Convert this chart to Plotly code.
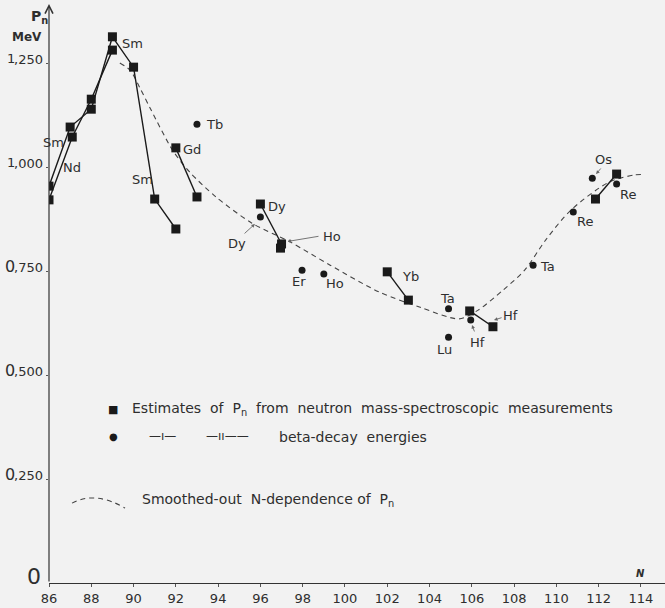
import plotly.graph_objects as go

# Neutron pairing energy P_n (MeV) against neutron number N

# Squares: estimates from mass-spectroscopic measurements (connected chains)
sm_chain_n = [86, 87, 88, 89, 90, 91, 92]
sm_chain_p = [0.954, 1.096, 1.139, 1.313, 1.240, 0.923, 0.851]
nd_chain_n = [86, 87.1, 88, 89]
nd_chain_p = [0.921, 1.072, 1.163, 1.281]
gd_n = [92, 93]
gd_p = [1.046, 0.928]
dy_n = [96, 97]
dy_p = [0.911, 0.815]
ho_sq_n = [96.95]
ho_sq_p = [0.805]
yb_n = [102, 103]
yb_p = [0.748, 0.680]
hf_n = [105.9, 107]
hf_p = [0.654, 0.616]
re_n = [111.85, 112.85]
re_p = [0.923, 0.983]

# Circles: values from beta-decay energies
beta_n = [93.0, 96.0, 97.97, 99.0, 104.9, 104.9, 105.95, 108.9, 110.8, 111.7, 112.85]
beta_p = [1.103, 0.880, 0.752, 0.743, 0.659, 0.591, 0.632, 0.764, 0.892, 0.973, 0.959]

# Smoothed-out N-dependence of P_n
smooth_n = [89.35, 89.85, 90.3, 90.8, 91.85, 92.65, 93.9, 95.6, 97.4, 99.3,
            101.6, 103.6, 105.4, 106.3, 107.5, 108.5, 109.5, 110.7, 112.5, 113.7, 114.0]
smooth_p = [1.250, 1.232, 1.190, 1.140, 1.040, 0.988, 0.928, 0.865, 0.820, 0.764,
            0.700, 0.662, 0.635, 0.656, 0.705, 0.752, 0.825, 0.897, 0.964, 0.981, 0.982]

# Axis ticks
x_ticks = list(range(86, 115, 2))
y_ticks = [0.25, 0.5, 0.75, 1.0, 1.25]
y_lead = ["0", "0", "0", "1", "1"]
y_tail = [",250", ",500", ",750", ",000", ",250"]

# Element labels placed beside the points
label_text = ["Sm", "Sm", "Nd", "Sm", "Gd", "Tb", "Dy", "Er", "Ho", "Yb", "Ta",
              "Lu", "Ta", "Re", "Re"]
label_n = [89.93, 86.19, 87.09, 90.40, 92.76, 93.85, 96.79, 97.83, 99.53, 103.08,
           104.83, 104.69, 109.56, 111.35, 113.39]
label_p = [1.298, 1.060, 0.998, 0.969, 1.041, 1.103, 0.904, 0.724, 0.721, 0.736,
           0.683, 0.5625, 0.762, 0.868, 0.935]

# Labels with pointer arrows: text position, arrow tail, arrow head
arrow_text = ["Dy", "Ho", "Hf", "Hf", "Os"]
arrow_lab_n = [94.89, 99.39, 106.25, 107.81, 112.21]
arrow_lab_p = [0.815, 0.832, 0.579, 0.644, 1.017]
arrow_tail_n = [95.18, 98.82, 106.15, 107.48, 112.16]
arrow_tail_p = [0.837, 0.834, 0.601, 0.639, 1.000]
arrow_head_n = [95.74, 97.40, 106.01, 107.05, 111.88]
arrow_head_p = [0.863, 0.822, 0.620, 0.632, 0.983]
arrow_style = [2, 6, 2, 2, 2]

INK = "#1a1a1a"
TXT = "#2e2e2e"
FONT = "DejaVu Sans"
BG = "#f2f2f2"

X_MAX = 86 + 616 / 21.14
Y_MAX = 583 / 416

fig = go.Figure()

# smoothed curve
fig.add_trace(go.Scatter(
    x=smooth_n, y=smooth_p, mode="lines",
    line=dict(color="#444444", width=1.1, dash="5px,4px", shape="spline", smoothing=0.8),
    hoverinfo="skip"))

# measured chains
for xs, ys in [(sm_chain_n, sm_chain_p), (nd_chain_n, nd_chain_p), (gd_n, gd_p),
               (dy_n, dy_p), (yb_n, yb_p), (hf_n, hf_p), (re_n, re_p)]:
    fig.add_trace(go.Scatter(
        x=xs, y=ys, mode="lines+markers",
        line=dict(color=INK, width=1.4),
        marker=dict(symbol="square", size=9, color=INK),
        hoverinfo="skip"))
fig.add_trace(go.Scatter(
    x=ho_sq_n, y=ho_sq_p, mode="markers",
    marker=dict(symbol="square", size=9, color=INK), hoverinfo="skip"))

# beta-decay points
fig.add_trace(go.Scatter(
    x=beta_n, y=beta_p, mode="markers",
    marker=dict(symbol="circle", size=7, color=INK), hoverinfo="skip"))

annotations = []
for t, xn, yp in zip(label_text, label_n, label_p):
    annotations.append(dict(x=xn, y=yp, text=t, showarrow=False,
                            font=dict(family=FONT, size=13, color=TXT)))
for t, lx, ly, tx, ty, hx, hy, hs in zip(arrow_text, arrow_lab_n, arrow_lab_p,
                                         arrow_tail_n, arrow_tail_p,
                                         arrow_head_n, arrow_head_p, arrow_style):
    annotations.append(dict(x=lx, y=ly, text=t, showarrow=False,
                            font=dict(family=FONT, size=13, color=TXT)))
    annotations.append(dict(x=hx, y=hy, ax=tx, ay=ty, axref="x", ayref="y",
                            xref="x", yref="y", text="", showarrow=True,
                            arrowhead=hs, arrowsize=0.8, arrowwidth=0.9,
                            arrowcolor="#666666"))

# y tick labels, right-aligned just left of the axis; leading "0" drawn larger
for v, lead, tail in zip(y_ticks, y_lead, y_tail):
    annotations.append(dict(xref="paper", yref="y", x=0, xshift=-4, y=v + 0.008,
                            xanchor="right", yanchor="middle", text=tail,
                            showarrow=False,
                            font=dict(family=FONT, size=13, color=TXT)))
    annotations.append(dict(xref="paper", yref="y", x=0, xshift=-32, y=v + 0.010,
                            xanchor="right", yanchor="middle", text=lead,
                            showarrow=False,
                            font=dict(family=FONT, size=16 if lead == "0" else 13,
                                      color=TXT)))
annotations.append(dict(xref="paper", yref="paper", x=0, xshift=-15, y=0.012,
                        xanchor="center", yanchor="middle", text="0",
                        showarrow=False,
                        font=dict(family=FONT, size=22, color=TXT)))

# vertical axis with arrow
annotations.append(dict(x=86, y=1.392, ax=86, ay=0, axref="x", ayref="y",
                        xref="x", yref="y", text="", showarrow=True,
                        arrowhead=5, arrowsize=1.3, arrowwidth=1.2,
                        arrowcolor="#333333"))
annotations.append(dict(xref="paper", yref="paper", x=0, xshift=-10, y=0.971,
                        xanchor="center", yanchor="middle",
                        text="<b>P<sub>n</sub></b>", showarrow=False,
                        font=dict(family=FONT, size=14, color=TXT)))
annotations.append(dict(xref="paper", yref="paper", x=0, xshift=-22, y=0.9365,
                        xanchor="center", yanchor="middle",
                        text="<b>MeV</b>", showarrow=False,
                        font=dict(family=FONT, size=12, color=TXT)))
annotations.append(dict(x=113.96, y=0.022, text="<b><i>N</i></b>", showarrow=False,
                        font=dict(family=FONT, size=10, color=TXT)))

# key
annotations += [
    dict(x=89.03, y=0.418, text="■", showarrow=False,
         font=dict(family=FONT, size=11, color=INK)),
    dict(x=89.83, y=0.418, xanchor="left",
         text="Estimates  of  P<sub>n</sub>  from  neutron  mass-spectroscopic  measurements",
         showarrow=False, font=dict(family=FONT, size=14, color=TXT)),
    dict(x=89.03, y=0.351, text="●", showarrow=False,
         font=dict(family=FONT, size=10, color=INK)),
    dict(x=91.35, y=0.353, text="—ı—", showarrow=False,
         font=dict(family=FONT, size=12, color=TXT)),
    dict(x=94.42, y=0.353, text="—ıı——", showarrow=False,
         font=dict(family=FONT, size=12, color=TXT)),
    dict(x=96.79, y=0.351, xanchor="left", text="beta-decay  energies",
         showarrow=False, font=dict(family=FONT, size=14, color=TXT)),
    dict(x=90.30, y=0.1995, xanchor="left",
         text="Smoothed-out  N-dependence of  P<sub>n</sub>",
         showarrow=False, font=dict(family=FONT, size=14, color=TXT)),
]

shapes = [dict(type="path", xref="x", yref="y",
               path="M 87.09,0.192 Q 88.18,0.222 89.60,0.180",
               line=dict(color="#444444", width=1.1, dash="5px,4px"))]

fig.update_layout(
    width=665, height=608,
    margin=dict(l=49, r=0, t=0, b=25, pad=0, autoexpand=False),
    paper_bgcolor=BG, plot_bgcolor=BG,
    showlegend=False,
    annotations=annotations, shapes=shapes,
    xaxis=dict(range=[86, X_MAX], tickvals=x_ticks,
               showgrid=False, zeroline=False, showline=True,
               linecolor="#333333", linewidth=1.2,
               ticks="outside", ticklen=3, tickcolor="#555555",
               tickfont=dict(family=FONT, size=13, color=TXT)),
    yaxis=dict(range=[0, Y_MAX], tickvals=y_ticks,
               showticklabels=False,
               showgrid=False, zeroline=False, showline=False,
               ticks="outside", ticklen=2, tickcolor="#555555"),
)

fig.write_html("out.html")
